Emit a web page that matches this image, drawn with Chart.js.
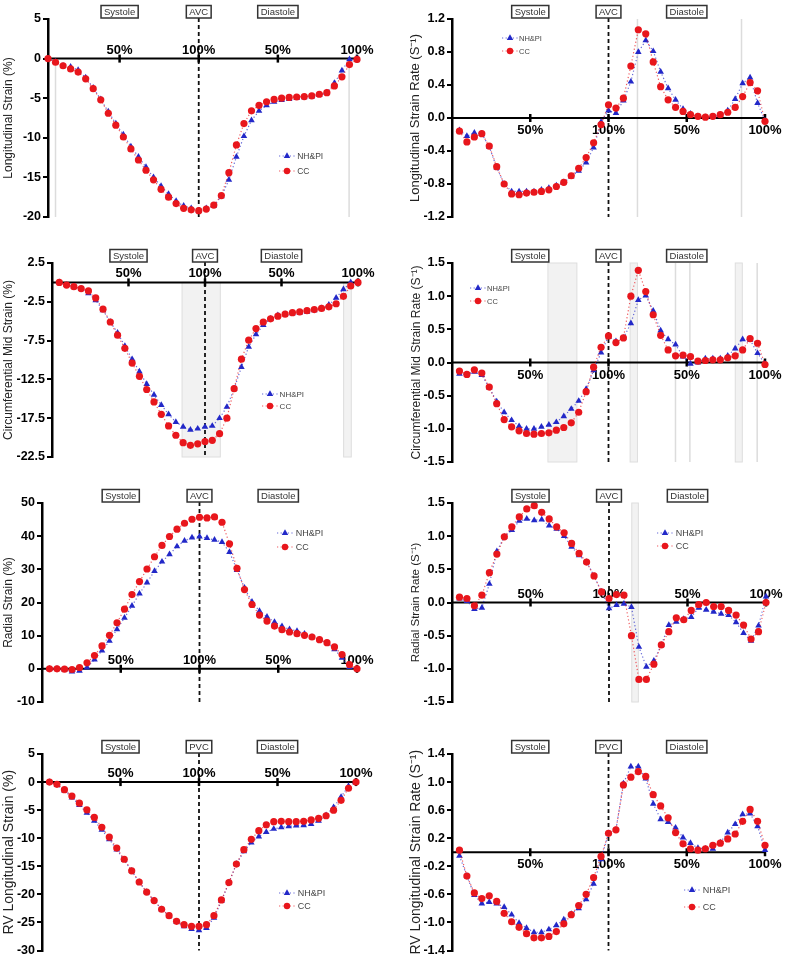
<!DOCTYPE html>
<html>
<head>
<meta charset="utf-8">
<script src="https://cdn.jsdelivr.net/npm/chart.js@4.4.0/dist/chart.umd.min.js"></script>
<style>
body{margin:0;background:#fff;width:785px;height:960px;position:relative;overflow:hidden}
canvas{position:absolute}
</style>
</head>
<body>
<canvas id="c1" width="392" height="235" style="left:0;top:0"></canvas>
<canvas id="c2" width="393" height="235" style="left:392px;top:0"></canvas>
<canvas id="c3" width="392" height="240" style="left:0;top:235px"></canvas>
<canvas id="c4" width="393" height="240" style="left:392px;top:235px"></canvas>
<canvas id="c5" width="392" height="240" style="left:0;top:475px"></canvas>
<canvas id="c6" width="393" height="240" style="left:392px;top:475px"></canvas>
<canvas id="c7" width="392" height="245" style="left:0;top:715px"></canvas>
<canvas id="c8" width="393" height="245" style="left:392px;top:715px"></canvas>
<script>
// % of cardiac cycle: systole 0-100, diastole 100-200
const cyclePct = [4.76, 9.52, 14.29, 19.05, 23.81, 28.57, 33.33, 38.10, 42.86, 47.62, 52.38, 57.14, 61.90, 66.67, 71.43, 76.19, 80.95, 85.71, 90.48, 95.24, 100,
  104.76, 109.52, 114.29, 119.05, 123.81, 128.57, 133.33, 138.10, 142.86, 147.62, 152.38, 157.14, 161.90, 166.67, 171.43, 176.19, 180.95, 185.71, 190.48, 195.24, 200];
const phaseTicks = [50, 100, 150, 200];
const phaseTickLabels = ['50%', '100%', '50%', '100%'];
const seriesNames = ['NH&PI', 'CC'];

// LV longitudinal strain (%)
const lsNHPI = [0,-0.4,-0.9,-1.05,-1.45,-2.4,-3.7,-5.15,-6.7,-8.2,-9.6,-11.1,-12.4,-13.7,-15.0,-16.1,-17.1,-18.0,-18.6,-18.9,-19.2,-18.9,-18.6,-17.4,-15.3,-12.4,-9.8,-7.8,-6.6,-5.9,-5.45,-5.25,-5.1,-5.0,-4.9,-4.8,-4.6,-4.3,-3.1,-1.5,-0.1,0];
const lsCC   = [0,-0.46,-0.9,-1.3,-1.7,-2.55,-3.8,-5.2,-6.9,-8.4,-9.9,-11.4,-12.8,-14.1,-15.3,-16.5,-17.5,-18.3,-18.9,-19.1,-19.2,-19.0,-18.5,-17.3,-14.4,-10.9,-8.2,-6.6,-5.9,-5.45,-5.15,-5.0,-4.9,-4.85,-4.8,-4.7,-4.5,-4.3,-3.45,-2.3,-0.75,-0.1];
// LV longitudinal strain rate
const lsrNHPI = [-0.15,-0.22,-0.18,-0.19,-0.35,-0.6,-0.8,-0.89,-0.89,-0.89,-0.89,-0.87,-0.85,-0.82,-0.78,-0.71,-0.64,-0.54,-0.36,-0.05,0.09,0.06,0.21,0.44,0.8,0.94,0.81,0.56,0.36,0.22,0.11,0.05,0.02,0.01,0.01,0.04,0.09,0.23,0.42,0.49,0.18,-0.03];
const lsrCC   = [-0.16,-0.29,-0.23,-0.19,-0.34,-0.59,-0.8,-0.92,-0.93,-0.91,-0.9,-0.89,-0.87,-0.83,-0.78,-0.7,-0.61,-0.48,-0.3,-0.08,0.16,0.12,0.24,0.63,1.07,1.02,0.68,0.38,0.22,0.13,0.08,0.04,0.02,0.01,0.02,0.04,0.07,0.13,0.26,0.43,0.33,-0.04];
// circumferential mid strain (%)
const cmsNHPI = [0,-0.35,-0.55,-0.85,-1.4,-2.3,-3.6,-5.1,-6.5,-8.2,-9.9,-11.5,-13.1,-14.5,-15.8,-17.0,-18.0,-18.6,-19.0,-18.85,-18.6,-18.5,-17.5,-16.05,-13.7,-10.9,-8.3,-6.7,-5.5,-4.7,-4.25,-4.1,-4.0,-3.9,-3.8,-3.6,-3.35,-2.9,-2.0,-0.9,0,0];
const cmsCC   = [0,-0.35,-0.55,-0.8,-1.1,-2.0,-3.45,-5.1,-6.8,-8.5,-10.4,-12.1,-13.8,-15.4,-17.0,-18.5,-19.7,-20.65,-21.0,-20.8,-20.5,-20.35,-19.5,-17.5,-13.7,-9.9,-7.45,-5.95,-5.1,-4.7,-4.35,-4.1,-3.9,-3.8,-3.65,-3.5,-3.35,-3.15,-2.75,-1.8,-0.45,0];
// circumferential mid strain rate
const cmsrNHPI = [-0.17,-0.18,-0.14,-0.19,-0.38,-0.59,-0.75,-0.87,-0.96,-1.0,-1.0,-0.97,-0.94,-0.9,-0.81,-0.7,-0.58,-0.4,-0.12,0.15,0.39,0.32,0.37,0.59,0.94,1.01,0.78,0.48,0.35,0.27,0.09,-0.02,0,0.06,0.06,0.06,0.1,0.21,0.35,0.34,0.14,-0.02];
const cmsrCC   = [-0.13,-0.18,-0.11,-0.16,-0.37,-0.62,-0.86,-0.97,-1.03,-1.07,-1.08,-1.07,-1.06,-1.02,-0.98,-0.91,-0.75,-0.44,-0.07,0.23,0.4,0.3,0.37,1.0,1.39,1.07,0.72,0.41,0.19,0.1,0.11,0.09,0.02,0.03,0.04,0.04,0.07,0.1,0.19,0.36,0.29,-0.03];
// radial strain (%)
const rsNHPI = [0,0,-0.2,-0.8,-0.6,0.4,2.8,5.5,8.4,11.9,15.4,19.0,22.7,26.0,29.5,32.3,34.5,36.9,38.6,39.6,39.9,39.4,38.9,38.2,35.2,29.8,24.4,20.2,17.4,15.7,14.1,12.8,11.9,11.4,10.6,9.6,8.8,7.8,5.9,3.3,0.5,0];
const rsCC   = [0,0,-0.1,-0.2,0.4,1.8,4.0,6.9,10.1,13.9,18.0,22.4,26.3,30.1,33.8,37.2,39.9,42.1,43.9,45.1,45.7,45.5,45.8,44.2,37.7,30.3,23.9,19.4,16.2,14.4,12.9,11.8,11.1,10.6,10.1,9.6,8.8,7.9,6.6,4.3,1.3,0];
// radial strain rate
const rsrNHPI = [0.06,0.02,-0.1,-0.08,0.28,0.77,0.99,1.09,1.23,1.26,1.24,1.25,1.16,1.11,1.0,0.84,0.71,0.61,0.4,0.16,-0.09,-0.04,-0.02,-0.07,-0.67,-0.97,-0.88,-0.64,-0.34,-0.29,-0.25,-0.22,-0.08,-0.11,-0.14,-0.17,-0.19,-0.3,-0.46,-0.58,-0.35,0.09];
const rsrCC   = [0.08,0.06,-0.05,0.11,0.45,0.73,0.99,1.14,1.29,1.41,1.46,1.36,1.26,1.14,1.05,0.89,0.74,0.61,0.4,0.16,0.06,0.12,0.11,-0.5,-1.16,-1.16,-0.93,-0.64,-0.44,-0.23,-0.26,-0.12,-0.03,0,-0.06,-0.06,-0.12,-0.19,-0.34,-0.55,-0.44,0];
// RV longitudinal strain (%)
const rvlsNHPI = [0,-0.5,-1.5,-2.75,-4.1,-5.5,-6.9,-8.5,-10.2,-12.05,-13.9,-15.8,-17.8,-19.6,-21.1,-22.65,-23.8,-24.9,-25.7,-26.2,-26.4,-26.0,-24.2,-21.2,-17.9,-14.6,-12.35,-10.8,-9.7,-8.9,-8.35,-8.05,-7.9,-7.75,-7.7,-7.5,-6.9,-5.9,-4.5,-2.65,-0.7,0];
const rvlsCC   = [0,-0.4,-1.35,-2.5,-3.75,-4.95,-6.3,-8.05,-9.8,-11.75,-13.75,-15.8,-17.8,-19.6,-21.1,-22.65,-23.8,-24.8,-25.4,-25.7,-25.7,-25.4,-23.8,-21.0,-17.9,-14.6,-12.05,-10.2,-8.65,-7.6,-7.05,-7.0,-7.05,-7.05,-7.0,-6.75,-6.45,-6.0,-5.0,-3.25,-1.1,0];
// RV longitudinal strain rate
const rvlsrNHPI = [-0.05,-0.34,-0.61,-0.73,-0.71,-0.73,-0.78,-0.89,-1.01,-1.08,-1.14,-1.14,-1.1,-1.04,-0.96,-0.88,-0.8,-0.67,-0.45,-0.1,0.27,0.32,0.98,1.22,1.22,1.05,0.69,0.47,0.43,0.35,0.21,0.13,0.06,0.05,0.05,0.14,0.28,0.4,0.54,0.55,0.37,0.03];
const rvlsrCC   = [0.03,-0.34,-0.58,-0.66,-0.62,-0.7,-0.87,-0.99,-1.07,-1.16,-1.22,-1.22,-1.2,-1.13,-1.02,-0.89,-0.76,-0.6,-0.36,-0.06,0.27,0.32,0.96,1.07,1.15,1.08,0.82,0.66,0.49,0.28,0.12,0.05,0.03,0.05,0.1,0.13,0.19,0.26,0.44,0.61,0.44,0.1];

const BLUE = '#2228c8', RED = '#e8161c';
const FONT = '"Liberation Sans", Arial, sans-serif';

const panels = [
  {id:'c1', title:'Longitudinal Strain (%)', tSize:12, nh:lsNHPI, cc:lsCC, yMin:-20, yMax:5, step:5, dec:0, xMin:4.76,
   area:{l:48,t:19,r:357,b:217}, valve:'AVC', below:false, leg:{x:287,y:156,dy:15,s:8.5},
   rules:[{x:9.5,from:0},{x:195,from:0}]},
  {id:'c2', title:'Longitudinal Strain Rate (S\u207B\u00B9)', tSize:13, nh:lsrNHPI, cc:lsrCC, yMin:-1.2, yMax:1.2, step:0.4, dec:1, xMin:0,
   area:{l:60,t:19,r:373,b:217}, valve:'AVC', below:true, leg:{x:118,y:38,dy:13,s:7.5},
   rules:[{x:118.5},{x:185}]},
  {id:'c3', title:'Circumferential Mid Strain (%)', tSize:12, nh:cmsNHPI, cc:cmsCC, yMin:-22.5, yMax:2.5, step:5, dec:1, xMin:0,
   area:{l:52,t:28,r:358,b:222}, valve:'AVC', below:false, leg:{x:270,y:159,dy:12,s:8},
   rules:[{x:85,x2:110,from:0},{x:190.6,x2:195.6,from:0}]},
  {id:'c4', title:'Circumferential Mid Strain Rate (S\u207B\u00B9)', tSize:12, nh:cmsrNHPI, cc:cmsrCC, yMin:-1.5, yMax:1.5, step:0.5, dec:1, xMin:0,
   area:{l:60,t:28,r:373,b:227}, valve:'AVC', below:true, leg:{x:86,y:53,dy:13,s:7.5},
   rules:[{x:61.3,x2:79.8},{x:113.8,x2:118.5},{x:181,x2:185.5},{x:142.8},{x:152},{x:195}]},
  {id:'c5', title:'Radial Strain (%)', tSize:12, nh:rsNHPI, cc:rsCC, yMin:-10, yMax:50, step:10, dec:0, xMin:0,
   area:{l:42,t:28,r:357,b:227}, valve:'AVC', below:false, leg:{x:285,y:58,dy:14,s:9},
   rules:[]},
  {id:'c6', title:'Radial Strain Rate (S\u207B\u00B9)', tSize:11.5, nh:rsrNHPI, cc:rsrCC, yMin:-1.5, yMax:1.5, step:0.5, dec:1, xMin:0,
   area:{l:60,t:28,r:374,b:227}, valve:'AVC', below:false, leg:{x:273,y:58,dy:13,s:9},
   rules:[{x:114.5,x2:118.7}]},
  {id:'c7', title:'RV Longitudinal Strain (%)', tSize:14, nh:rvlsNHPI, cc:rvlsCC, yMin:-30, yMax:5, step:5, dec:0, xMin:0,
   area:{l:42,t:39,r:356,b:238}, valve:'PVC', below:false, leg:{x:287,y:178,dy:13,s:9},
   rules:[]},
  {id:'c8', title:'RV Longitudinal Strain Rate (S\u207B\u00B9)', tSize:14, nh:rvlsrNHPI, cc:rvlsrCC, yMin:-1.4, yMax:1.4, step:0.4, dec:1, xMin:0,
   area:{l:60,t:39,r:373,b:238}, valve:'PVC', below:true, leg:{x:300,y:175,dy:17,s:9},
   rules:[]}
];

function drawMarker(ctx, style, x, y, r, color) {
  ctx.fillStyle = color;
  ctx.beginPath();
  if (style === 'triangle') {
    ctx.moveTo(x, y - r * 1.1);
    ctx.lineTo(x + r * 0.95, y + r * 0.6);
    ctx.lineTo(x - r * 0.95, y + r * 0.6);
    ctx.closePath();
  } else {
    ctx.arc(x, y, r, 0, Math.PI * 2);
  }
  ctx.fill();
}

function makePanel(p) {
  const cv = document.getElementById(p.id);
  const W = cv.width, H = cv.height;
  const a = p.area;
  const padL = p.area.l > 55 ? Math.round(24 - 1 - 0.6 * p.tSize) : 0;

  const deco = {
    id: 'deco' + p.id,
    beforeDatasetsDraw(chart) {
      const ctx = chart.ctx, xs = chart.scales.x, ys = chart.scales.y, ca = chart.chartArea;
      ctx.save();
      // grey phase markers
      p.rules.forEach(r => {
        const top = r.from == null ? ca.top : ys.getPixelForValue(r.from);
        const x1 = xs.getPixelForValue(r.x);
        if (r.x2 != null) {
          const x2 = xs.getPixelForValue(r.x2);
          ctx.fillStyle = '#f2f2f2';
          ctx.fillRect(x1, top, x2 - x1, ca.bottom - top);
          ctx.strokeStyle = '#dedede';
          ctx.lineWidth = 1;
          ctx.strokeRect(x1, top, x2 - x1, ca.bottom - top);
        } else {
          ctx.strokeStyle = '#dcdcdc';
          ctx.lineWidth = 1.5;
          ctx.beginPath();
          ctx.moveTo(x1, top);
          ctx.lineTo(x1, ca.bottom);
          ctx.stroke();
        }
      });
      // valve closure dashed line
      const xm = xs.getPixelForValue(100);
      ctx.strokeStyle = '#111';
      ctx.lineWidth = 1.8;
      ctx.setLineDash([4, 3]);
      ctx.beginPath();
      ctx.moveTo(xm, ca.top - 1);
      ctx.lineTo(xm, ca.bottom);
      ctx.stroke();
      ctx.setLineDash([]);
      // zero axis with phase ticks
      const y0 = ys.getPixelForValue(0);
      ctx.strokeStyle = '#000';
      ctx.lineWidth = 2;
      ctx.beginPath();
      ctx.moveTo(ca.left, y0);
      ctx.lineTo(xs.getPixelForValue(200), y0);
      ctx.stroke();
      ctx.font = 'bold 13px ' + FONT;
      ctx.fillStyle = '#000';
      ctx.textAlign = 'center';
      phaseTicks.forEach((t, i) => {
        const x = xs.getPixelForValue(t);
        ctx.lineWidth = 2.5;
        ctx.beginPath();
        ctx.moveTo(x, y0 - 4);
        ctx.lineTo(x, y0 + 4);
        ctx.stroke();
        if (p.below) {
          ctx.textBaseline = 'top';
          ctx.fillText(phaseTickLabels[i], x, y0 + 6);
        } else {
          ctx.textBaseline = 'alphabetic';
          ctx.fillText(phaseTickLabels[i], x, y0 - 5);
        }
      });
      ctx.restore();
    },
    afterDatasetsDraw(chart) {
      const ctx = chart.ctx, xs = chart.scales.x, ca = chart.chartArea;
      ctx.save();
      // phase boxes
      ctx.font = '9.5px ' + FONT;
      ctx.textAlign = 'center';
      ctx.textBaseline = 'middle';
      [['Systole', 50], [p.valve, 100], ['Diastole', 150]].forEach(([txt, v]) => {
        const x = xs.getPixelForValue(v);
        const w = ctx.measureText(txt).width + 6, h = 12.5;
        const yb = ca.top - 1;
        ctx.fillStyle = '#fff';
        ctx.fillRect(x - w / 2, yb - h, w, h);
        ctx.strokeStyle = '#333';
        ctx.lineWidth = 1.5;
        ctx.strokeRect(x - w / 2, yb - h, w, h);
        ctx.fillStyle = '#333';
        ctx.fillText(txt, x, yb - h / 2 + 0.5);
      });
      // legend
      const L = p.leg;
      ctx.font = L.s + 'px ' + FONT;
      ctx.textAlign = 'left';
      [[BLUE, 'triangle'], [RED, 'circle']].forEach(([col, st], i) => {
        const y = L.y + i * L.dy;
        ctx.strokeStyle = col;
        ctx.globalAlpha = 0.7;
        ctx.lineWidth = 1.2;
        ctx.setLineDash([1.2, 2.4]);
        ctx.beginPath();
        ctx.moveTo(L.x - 8, y);
        ctx.lineTo(L.x + 8, y);
        ctx.stroke();
        ctx.setLineDash([]);
        ctx.globalAlpha = 1;
        drawMarker(ctx, st, L.x, y, st === 'triangle' ? 3.4 : 3.2, col);
        ctx.fillStyle = '#444';
        ctx.fillText(seriesNames[i], L.x + L.s * 1.2, y + 0.5);
      });
      ctx.restore();
    }
  };

  return new Chart(cv, {
    type: 'line',
    data: {
      datasets: [
        {label: seriesNames[0], data: cyclePct.map((x, i) => ({x: x, y: p.nh[i]})),
         borderColor: 'rgba(34,40,200,0.7)', backgroundColor: BLUE, pointBorderColor: BLUE,
         borderWidth: 1.2, borderDash: [1.2, 2.4], pointStyle: 'triangle', pointRadius: 3.8,
         pointBorderWidth: 0, order: 1, clip: false},
        {label: seriesNames[1], data: cyclePct.map((x, i) => ({x: x, y: p.cc[i]})),
         borderColor: 'rgba(232,22,28,0.7)', backgroundColor: RED, pointBorderColor: RED,
         borderWidth: 1.2, borderDash: [1.2, 2.4], pointStyle: 'circle', pointRadius: 3.6,
         pointBorderWidth: 0, order: 0, clip: false}
      ]
    },
    options: {
      responsive: false,
      animation: false,
      layout: {padding: {left: padL, top: a.t, right: W - a.r, bottom: H - a.b}},
      plugins: {legend: {display: false}, tooltip: {enabled: false}},
      scales: {
        x: {type: 'linear', display: false, min: p.xMin, max: 200},
        y: {
          min: p.yMin, max: p.yMax,
          afterFit(s) { s.width = a.l - padL; },
          ticks: {stepSize: p.step, color: '#000', padding: 2,
                  font: {size: 12.5, weight: 'bold', family: FONT},
                  callback: v => (Math.abs(v) < 1e-9 ? 0 : v).toFixed(p.dec)},
          grid: {drawOnChartArea: false, color: '#000', lineWidth: 2, tickLength: 5, tickWidth: 2},
          border: {color: '#000', width: 2.5},
          title: {display: true, text: p.title, color: '#222',
                  font: {size: p.tSize, family: FONT}, padding: {top: 1, bottom: 0}}
        }
      }
    },
    plugins: [deco]
  });
}

panels.forEach(makePanel);
</script>
</body>
</html>
